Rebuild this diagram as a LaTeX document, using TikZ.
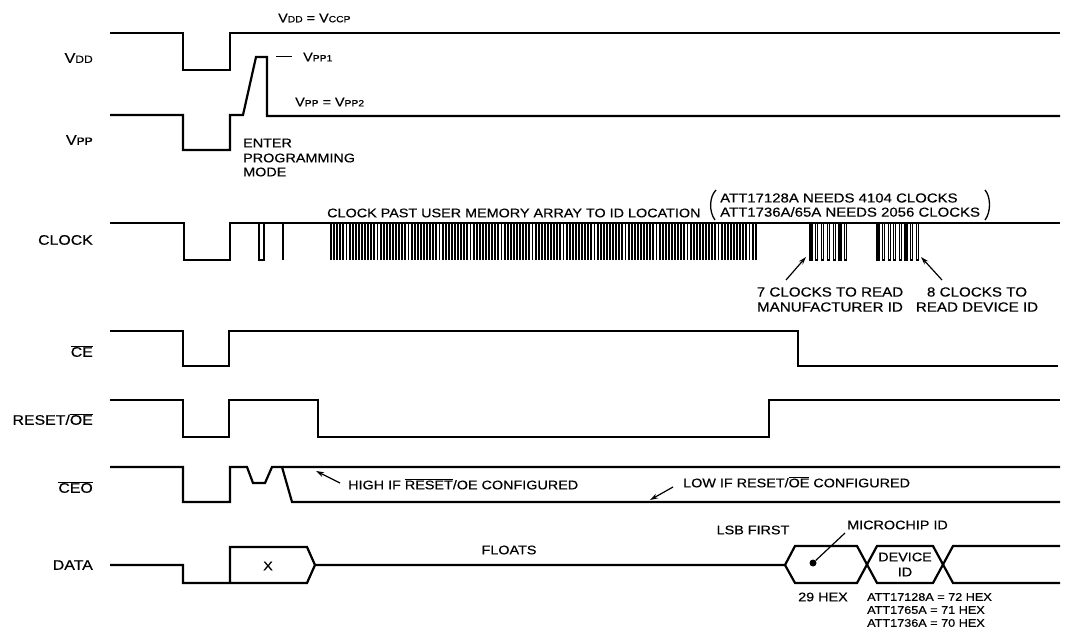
\documentclass[tikz,border=0pt]{standalone}
\usepackage{fontspec}
\setmainfont{Liberation Sans}[FakeStretch=1.15,FakeBold=0.4]
\usetikzlibrary{arrows.meta}
\newcommand\fs[1]{\fontsize{#1}{#1}\selectfont}
\newcommand\olbar[1]{$\overline{\hbox{#1}}$}
\newcommand\sigV[1]{{\fs{12.5}V}{\fs{9}#1}}
\newcommand\sigVL[1]{{\fs{14}V}{\fs{10.5}#1}}
\begin{document}
\begin{tikzpicture}[x=1pt,y=-1pt,
  wave/.style={line width=2.2pt},
  pulse/.style={line width=1.3pt},
  dense/.style={line width=1.9pt},
  ptr/.style={line width=1.2pt,-{Stealth[length=8pt,width=5pt]}},
  lbl/.style={anchor=east,inner sep=0pt,font=\fs{13.8}},
  note/.style={inner sep=0pt,font=\fs{12.5}},
  big/.style={inner sep=0pt,font=\fs{13.2}},
  small/.style={inner sep=0pt,font=\fs{11}}]
\fill[white] (0,0) rectangle (1065,636);
\useasboundingbox (0,0) rectangle (1065,636);

% labels
\node[lbl] (lvdd) at (93,58) {\sigVL{DD}};
\node[lbl] (lvpp) at (93,140) {\sigVL{PP}};
\node[lbl] (lclk) at (93,240) {CLOCK};
\node[lbl] (lce) at (93,351) {\olbar{CE}};
\node[lbl] (lrst) at (93,419) {RESET/\olbar{OE}};
\node[lbl] (lceo) at (93,487) {\olbar{CEO}};
\node[lbl] (ldata) at (93,565) {DATA};

% VDD
\draw[wave] (110,33) -| (183,70) -| (230,33) -- (1060,33);
\node[note,anchor=west] (tvdd) at (278,18) {\sigV{DD} = \sigV{CCP}};
% VPP
\draw[wave] (110,115) -| (183,150) -| (230,115) -- (243,115) -- (256,57) -- (267,57) -- (267,116) -- (1060,116);
\coordinate (d1) at (276,57);
\coordinate (d2) at (292,57);
\draw[line width=1pt] (d1) -- (d2);
\node[note,anchor=west] (tvpp1) at (303,57) {\sigV{PP1}};
\node[note,anchor=west] (tvpp2) at (295,102) {\sigV{PP} = \sigV{PP2}};
\node[note,anchor=west] (ent1) at (243,143) {ENTER};
\node[note,anchor=west] (ent2) at (243,158) {PROGRAMMING};
\node[note,anchor=west] (ent3) at (243,172) {MODE};

% CLOCK
\draw[wave] (110,223) -| (184,260) -| (230,223) -- (1060,223);
\draw[pulse] (259,223) -- (259,260) -- (264,260) -- (264,223);
\draw[pulse] (283,223) -- (283,260);
\foreach \i in {0,...,137} \draw[dense] ({331+3.1*\i},223) -- ++(0,37);
\foreach \i in {0,...,6} \draw[pulse] ({810+5.8*\i},223) -- ++(0,37) -- ++(2,0) -- ++(0,-37);
\foreach \i in {0,...,7} \draw[pulse] ({877+5.6*\i},223) -- ++(0,37) -- ++(2,0) -- ++(0,-37);
\node[note,anchor=west] (tpast) at (327,213) {CLOCK PAST USER MEMORY ARRAY TO ID LOCATION};
\node[inner sep=0pt,font=\fs{13},anchor=west] (tn1) at (720,198) {ATT17128A NEEDS 4104 CLOCKS};
\node[inner sep=0pt,font=\fs{13},anchor=west] (tn2) at (720,212) {ATT1736A/65A NEEDS 2056 CLOCKS};
\draw[line width=1.3pt] (716,190) .. controls (709,197) and (709,212) .. (715,220);
\draw[line width=1.3pt] (985,190) .. controls (991,197) and (991,212) .. (985,220);
\node[big] (t7a) at (830,292) {7 CLOCKS TO READ};
\node[big] (t7b) at (830,307) {MANUFACTURER ID};
\node[big] (t8a) at (977,292) {8 CLOCKS TO};
\node[big] (t8b) at (977,307) {READ DEVICE ID};
\coordinate (a7t) at (786,280); \coordinate (a7h) at (806,257);
\coordinate (a8t) at (942,280); \coordinate (a8h) at (921,257);
\draw[ptr] (a7t) -- (a7h);
\draw[ptr] (a8t) -- (a8h);

% CE
\draw[wave] (110,331) -| (183,366) -| (229,331) -| (798,366) -- (1058,366);
% RESET/OE
\draw[wave] (110,400) -| (183,437) -| (229,400) -| (318,437) -| (769,400) -- (1060,400);
% CEO
\draw[wave] (110,467) -| (183,502) -| (230,467) -- (247,467) -- (253,483) -- (265,483) -- (272,467) -- (1060,467);
\draw[wave] (282,467) -- (292,502) -- (1060,502);
\node[note,anchor=west] (thigh) at (348,484) {HIGH IF \olbar{RESET}/OE CONFIGURED};
\node[note,anchor=west] (tlow) at (683,482) {LOW IF RESET/\olbar{OE} CONFIGURED};
\coordinate (ht) at (340,483); \coordinate (hh) at (316,471);
\coordinate (lt) at (673,487); \coordinate (lh) at (650,500);
\draw[ptr] (ht) -- (hh);
\draw[ptr] (lt) -- (lh);

% DATA
\draw[wave] (110,565) -| (183,583) -- (307,583) -- (315,565) -- (307,547) -- (230,547) -- (230,583);
\draw[wave] (315,565) -- (785,565) -- (795,546) -- (857,546) -- (877,583) -- (933,583) -- (953,546) -- (1060,546);
\draw[wave] (785,565) -- (795,583) -- (857,583) -- (877,546) -- (933,546) -- (953,583) -- (1060,583);
\node[note] (tx) at (268,566) {X};
\node[note] (tfl) at (509,550) {FLOATS};
\node[note] (tlsb) at (753,530) {LSB FIRST};
\node[note,anchor=west] (tmic) at (847,525) {MICROCHIP ID};
\node[note] (tdev1) at (905,557) {DEVICE};
\node[note] (tdev2) at (905,572) {ID};
\node[note] (t29) at (823,597) {29 HEX};
\node[small,anchor=west] (th1) at (867,597) {ATT17128A = 72 HEX};
\node[small,anchor=west] (th2) at (867,610) {ATT1765A = 71 HEX};
\node[small,anchor=west] (th3) at (867,623) {ATT1736A = 70 HEX};
\node[circle,fill,inner sep=0pt,minimum size=7pt] (dot) at (813,563) {};
\coordinate (mp) at (845,533);
\draw[line width=1.2pt] (dot) -- (mp);
\end{tikzpicture}
\end{document}
